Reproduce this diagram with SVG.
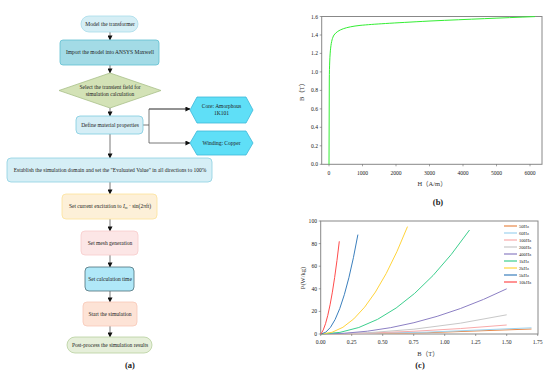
<svg xmlns="http://www.w3.org/2000/svg" width="550" height="376" viewBox="0 0 550 376">
<defs>
<style>
text{font-family:"Liberation Serif","Noto Sans CJK SC",serif;fill:#222}
.t{font-size:5.5px;text-anchor:middle}
.k{font-size:5.6px;fill:#333}
.lg{font-size:4.6px;fill:#333}
.ax{font-size:6.5px;text-anchor:middle;fill:#333}
.cap{font-size:8.5px;font-weight:bold;text-anchor:middle}
.c{fill:none;stroke:#555;stroke-width:0.8}
.fr{fill:none;stroke:#888;stroke-width:1}
.tk{stroke:#666;stroke-width:0.6}
.cv{fill:none;stroke-width:1}
</style>
<marker id="ah" viewBox="0 0 6 6" refX="5.5" refY="3" markerWidth="5" markerHeight="5" orient="auto" markerUnits="userSpaceOnUse">
<path d="M0,0 L6,3 L0,6 Z" fill="#111"/>
</marker>
</defs>
<rect width="550" height="376" fill="#fff"/>

<g id="connectors">
<line class="c" x1="110" y1="32" x2="110" y2="40" marker-end="url(#ah)"/>
<line class="c" x1="110" y1="65" x2="110" y2="73" marker-end="url(#ah)"/>
<line class="c" x1="110" y1="108" x2="110" y2="116" marker-end="url(#ah)"/>
<line class="c" x1="110" y1="134" x2="110" y2="158" marker-end="url(#ah)"/>
<polyline class="c" points="143,125 149,125"/>
<polyline class="c" points="190,109 149,109 149,143 190,143" marker-end="url(#ah)"/>
<line class="c" x1="149" y1="109" x2="190" y2="109" marker-end="url(#ah)"/>
<line class="c" x1="110" y1="182" x2="110" y2="194" marker-end="url(#ah)"/>
<line class="c" x1="110" y1="219" x2="110" y2="231" marker-end="url(#ah)"/>
<line class="c" x1="110" y1="255" x2="110" y2="267" marker-end="url(#ah)"/>
<line class="c" x1="110" y1="291" x2="110" y2="302" marker-end="url(#ah)"/>
<line class="c" x1="110" y1="326" x2="110" y2="337" marker-end="url(#ah)"/>
</g>

<g id="n1">
<rect x="81" y="16" width="57" height="16" rx="8" fill="#d5eef5" stroke="#a8dcea" stroke-width="0.8"/>
<text class="t" x="110" y="25.9">Model the transformer</text>
</g>
<g id="n2">
<rect x="60" y="40" width="99" height="25" rx="3" fill="#a3dbe6" stroke="#5fbfd0" stroke-width="0.8"/>
<text class="t" x="110" y="54.4">Import the model into ANSYS Maxwell</text>
</g>
<g id="n3">
<polygon points="110,73 161,90.5 110,108 59,90.5" fill="#d3e2b6" stroke="#a9c08a" stroke-width="0.8"/>
<text class="t" x="110" y="88.5">Select the transient field for</text>
<text class="t" x="110" y="95.5">simulation calculation</text>
</g>
<g id="n4">
<rect x="76" y="116" width="67" height="18" rx="4" fill="#d5eef6" stroke="#7fcbe0" stroke-width="0.8"/>
<text class="t" x="110" y="126.9">Define material properties</text>
</g>
<g id="n5">
<polygon points="190,110 197,97 246,97 253,110 246,123 197,123" fill="#5fdff7" stroke="#3cb8d8" stroke-width="0.8"/>
<text class="t" x="221.5" y="108">Core: Amorphous</text>
<text class="t" x="221.5" y="115">1K101</text>
</g>
<g id="n6">
<polygon points="190,143 197,131 246,131 253,143 246,155 197,155" fill="#5fdff7" stroke="#3cb8d8" stroke-width="0.8"/>
<text class="t" x="221.5" y="145">Winding: Copper</text>
</g>
<g id="n7">
<rect x="7" y="158" width="205" height="24" rx="4" fill="#d6eff6" stroke="#8dd0e2" stroke-width="0.8"/>
<text class="t" x="110" y="171.9">Establish the simulation domain and set the "Evaluated Value" in all directions to 100%</text>
</g>
<g id="n8">
<rect x="62" y="194" width="95" height="25" rx="4" fill="#fdf0d8" stroke="#fde29a" stroke-width="0.8"/>
<text class="t" x="110" y="208.3">Set current excitation to  <tspan font-style="italic">I</tspan><tspan font-size="3.8px" font-style="italic" dy="1">m</tspan><tspan dy="-1"> · sin(2πft)</tspan></text>
</g>
<g id="n9">
<rect x="81" y="231" width="57" height="24" rx="4" fill="#fce6e6" stroke="#f8cccc" stroke-width="0.8"/>
<text class="t" x="110" y="244.9">Set mesh generation</text>
</g>
<g id="n10">
<rect x="85" y="267" width="49" height="24" rx="4" fill="#b0e8f8" stroke="#4c6f78" stroke-width="0.8"/>
<text class="t" x="110" y="280.9">Set calculation time</text>
</g>
<g id="n11">
<rect x="83" y="302" width="54" height="24" rx="4" fill="#fde3d6" stroke="#f8c8b8" stroke-width="0.8"/>
<text class="t" x="110" y="315.9">Start the simulation</text>
</g>
<g id="n12">
<rect x="67" y="337" width="85" height="16" rx="8" fill="#e6efda" stroke="#b8d09e" stroke-width="0.8"/>
<text class="t" x="110" y="346.9">Post-process the simulation results</text>
</g>
<text class="cap" x="130" y="368">(a)</text>

<!-- Chart b -->
<g id="chart-b">
<rect class="fr" x="321.7" y="16.5" width="220.3" height="147.8"/>
<g class="tk">
<line x1="319.7" y1="164.3" x2="321.7" y2="164.3"/><line x1="319.7" y1="145.8" x2="321.7" y2="145.8"/><line x1="319.7" y1="127.3" x2="321.7" y2="127.3"/><line x1="319.7" y1="108.9" x2="321.7" y2="108.9"/><line x1="319.7" y1="90.4" x2="321.7" y2="90.4"/><line x1="319.7" y1="71.9" x2="321.7" y2="71.9"/><line x1="319.7" y1="53.4" x2="321.7" y2="53.4"/><line x1="319.7" y1="35" x2="321.7" y2="35"/><line x1="319.7" y1="16.5" x2="321.7" y2="16.5"/>
<line x1="329" y1="164.3" x2="329" y2="166.3"/><line x1="362.5" y1="164.3" x2="362.5" y2="166.3"/><line x1="396" y1="164.3" x2="396" y2="166.3"/><line x1="429.5" y1="164.3" x2="429.5" y2="166.3"/><line x1="463" y1="164.3" x2="463" y2="166.3"/><line x1="496.5" y1="164.3" x2="496.5" y2="166.3"/><line x1="530" y1="164.3" x2="530" y2="166.3"/>
</g>
<g class="k" text-anchor="end">
<text x="318" y="166.3">0.0</text><text x="318" y="147.8">0.2</text><text x="318" y="129.3">0.4</text><text x="318" y="110.9">0.6</text><text x="318" y="92.4">0.8</text><text x="318" y="73.9">1.0</text><text x="318" y="55.4">1.2</text><text x="318" y="37">1.4</text><text x="318" y="18.5">1.6</text>
</g>
<g class="k" text-anchor="middle">
<text x="329" y="175">0</text><text x="362.5" y="175">1000</text><text x="396" y="175">2000</text><text x="429.5" y="175">3000</text><text x="463" y="175">4000</text><text x="496.5" y="175">5000</text><text x="530" y="175">6000</text>
</g>
<path class="cv" stroke="#33ee33" d="M329,164.3 L329.3,80 C329.6,50 331,40 334,35 C338,29.5 346,27 360,25.4 C375,24 390,23.2 430,21 C470,19.2 500,18 535,16.6"/>
<text class="ax" transform="translate(304,90.4) rotate(-90)">B（T）</text>
<text class="ax" x="432" y="185.5">H（A/m）</text>
</g>
<text class="cap" x="438" y="205">(b)</text>

<!-- Chart c -->
<g id="chart-c">
<rect class="fr" x="320.7" y="221" width="217.3" height="113"/>
<g class="tk">
<line x1="318.7" y1="334" x2="320.7" y2="334"/><line x1="318.7" y1="311.4" x2="320.7" y2="311.4"/><line x1="318.7" y1="288.8" x2="320.7" y2="288.8"/><line x1="318.7" y1="266.2" x2="320.7" y2="266.2"/><line x1="318.7" y1="243.6" x2="320.7" y2="243.6"/><line x1="318.7" y1="221" x2="320.7" y2="221"/>
<line x1="320.7" y1="334" x2="320.7" y2="336"/><line x1="351.7" y1="334" x2="351.7" y2="336"/><line x1="382.7" y1="334" x2="382.7" y2="336"/><line x1="413.7" y1="334" x2="413.7" y2="336"/><line x1="444.7" y1="334" x2="444.7" y2="336"/><line x1="475.7" y1="334" x2="475.7" y2="336"/><line x1="506.7" y1="334" x2="506.7" y2="336"/><line x1="537.7" y1="334" x2="537.7" y2="336"/>
</g>
<g class="k" text-anchor="end">
<text x="317" y="336">0</text><text x="317" y="313.4">20</text><text x="317" y="290.8">40</text><text x="317" y="268.2">60</text><text x="317" y="245.6">80</text><text x="317" y="223">100</text>
</g>
<g class="k" text-anchor="middle">
<text x="320.7" y="344">0.00</text><text x="351.7" y="344">0.25</text><text x="382.7" y="344">0.50</text><text x="413.7" y="344">0.75</text><text x="444.7" y="344">1.00</text><text x="475.7" y="344">1.25</text><text x="506.7" y="344">1.50</text><text x="537.7" y="344">1.75</text>
</g>
<path class="cv" stroke="#e8894a" d="M321,334 Q426,334 531.5,329"/>
<path class="cv" stroke="#9fd3ef" d="M321,334 Q426,333.5 531.5,327.8"/>
<path class="cv" stroke="#f9aaaa" d="M321,334 Q414,333 506.7,325"/>
<path class="cv" stroke="#c8c8c8" d="M321,334 Q414,334 506.7,314.8"/>
<path class="cv" stroke="#8c7fc4" d="M321,334 Q414,334 506.7,288.8"/>
<path class="cv" stroke="#3dcf8e" d="M321,334 Q397,334 469.5,230"/>
<path class="cv" stroke="#ffd43b" d="M321,334 Q365,334 407.5,226.6"/>
<path class="cv" stroke="#3b7fbd" d="M321,334 Q340,333 357.9,234.6"/>
<path class="cv" stroke="#ff4c4c" d="M321,334 Q330,322 339.3,241.3"/>
<g stroke-width="1.2">
<line x1="504" y1="226" x2="517" y2="226" stroke="#e8894a"/>
<line x1="504" y1="233" x2="517" y2="233" stroke="#9fd3ef"/>
<line x1="504" y1="240" x2="517" y2="240" stroke="#f9aaaa"/>
<line x1="504" y1="247" x2="517" y2="247" stroke="#c8c8c8"/>
<line x1="504" y1="254" x2="517" y2="254" stroke="#8c7fc4"/>
<line x1="504" y1="261" x2="517" y2="261" stroke="#3dcf8e"/>
<line x1="504" y1="268" x2="517" y2="268" stroke="#ffd43b"/>
<line x1="504" y1="275" x2="517" y2="275" stroke="#3b7fbd"/>
<line x1="504" y1="282" x2="517" y2="282" stroke="#ff4c4c"/>
</g>
<g class="lg">
<text x="519" y="227.6">50Hz</text><text x="519" y="234.6">60Hz</text><text x="519" y="241.6">100Hz</text><text x="519" y="248.6">200Hz</text><text x="519" y="255.6">400Hz</text><text x="519" y="262.6">1kHz</text><text x="519" y="269.6">2kHz</text><text x="519" y="276.6">5kHz</text><text x="519" y="283.6">10kHz</text>
</g>
<text class="ax" transform="translate(305,278) rotate(-90)">P(W/kg)</text>
<text class="ax" x="428" y="356">B（T）</text>
</g>
<text class="cap" x="420" y="368">(c)</text>
</svg>
